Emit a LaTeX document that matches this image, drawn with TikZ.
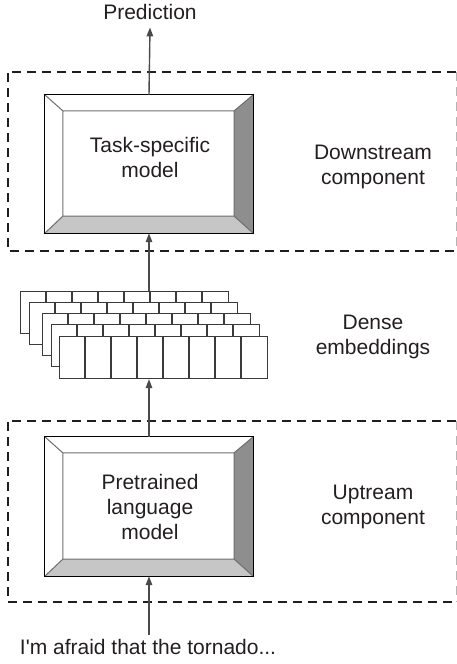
\documentclass[tikz,border=0pt]{standalone}
\usepackage{fontspec}
\setmainfont{Liberation Sans}
\usetikzlibrary{arrows.meta}

\definecolor{inkdark}{HTML}{231F20}
\definecolor{framegray}{HTML}{1E1E1E}
\definecolor{framelight}{HTML}{B4B4B4}
\definecolor{bevelright}{HTML}{8E8E8E}
\definecolor{bevelbottom}{HTML}{C6C6C6}
\definecolor{bevelline}{HTML}{6E6E6E}
\definecolor{arrowgray}{HTML}{4A4A4A}
\definecolor{cellline}{HTML}{3A3A3A}

% shaded bevel faces, inner panel and outline of a raised box node
\newcommand\raisedfaces[1]{%
  \coordinate (#1-inw) at ([shift={(18,16)}]#1.north west);
  \coordinate (#1-ine) at ([shift={(-19,16)}]#1.north east);
  \coordinate (#1-isw) at ([shift={(18,-17)}]#1.south west);
  \coordinate (#1-ise) at ([shift={(-19,-17)}]#1.south east);
  \fill[bevelright] (#1.north east) -- (#1.south east) -- (#1-ise) -- (#1-ine) -- cycle;
  \fill[bevelbottom] (#1.south west) -- (#1.south east) -- (#1-ise) -- (#1-isw) -- cycle;
  \draw[bevelline, line width=1pt, line join=miter]
    (#1-inw) rectangle (#1-ise)
    (#1.north west) -- (#1-inw) (#1.north east) -- (#1-ine)
    (#1.south west) -- (#1-isw) (#1.south east) -- (#1-ise);
  \draw[black, line width=1.3pt] (#1.north west) rectangle (#1.south east);
}

\tikzset{
  txt/.style={text=inkdark, align=center, inner sep=0pt,
    font=\fontsize{21}{25}\selectfont},
  raisedbox/.style={rectangle, inner sep=0pt, minimum width=208pt, minimum height=138pt},
  frame/.style={rectangle, inner sep=0pt, minimum width=448pt},
  framedash/.style={framegray, line width=2pt, dash pattern=on 9pt off 6pt},
  framedashlight/.style={framelight, line width=1pt, dash pattern=on 9pt off 6pt},
  emblayer/.style={rectangle, inner sep=0pt, minimum width=208pt, minimum height=42pt,
    fill=white, draw=cellline, line width=1.1pt, anchor=north west},
  flow/.style={arrowgray, line width=1.4pt, -{Triangle[length=9pt, width=6.5pt]}},
}

\begin{document}
\begin{tikzpicture}[x=1pt, y=-1pt]
\useasboundingbox (0,0) rectangle (457,664);

% dashed frames around the two components
\node[frame, minimum height=179pt] (downframe) at (232,161.5) {};
\node[frame, minimum height=181pt] (upframe) at (232,511.5) {};
\foreach \f in {downframe, upframe} {
  \draw[framedash] (\f.north east) -- (\f.north west) -- (\f.south west) -- (\f.south east);
  \draw[framedashlight] (\f.north east) -- (\f.south east);
}

% task-specific model
\node[raisedbox] (taskbox) at (149,164) {};
\raisedfaces{taskbox}
\node[txt] (tasktext) at (150,157) {Task-specific\\model};

% pretrained language model
\node[raisedbox, minimum height=139pt] (lmbox) at (149,506.5) {};
\raisedfaces{lmbox}
\node[txt] (lmtext) at (150,507) {Pretrained\\language\\model};

% stacked embedding layers, back to front
\foreach \lx/\ly/\i in {20/291/1, 29/302/2, 42/313/3, 51/324/4, 59/336/5} {
  \node[emblayer] (emb\i) at (\lx,\ly) {};
  \foreach \k in {1,...,7}
    \draw[cellline, line width=1.1pt]
      ([xshift=\k*26pt]emb\i.north west) -- ([xshift=\k*26pt]emb\i.south west);
}

% side labels
\node[txt] (downlabel) at (373,167) {Downstream\\component};
\node[txt] (emblabel) at (373,337) {Dense\\embeddings};
\node[txt] (uplabel) at (373,507) {Uptream\\component};

% input and output texts
\node[txt] (pred) at (150,11.5) {Prediction};
\node[txt] (input) at (148,646.5) {I\textquotesingle m afraid that the tornado...};

% data flow
\draw[flow] (taskbox.north) -- ([yshift=-8pt]pred.south);
\draw[flow] (taskbox.south |- emb1.north) -- (taskbox.south);
\draw[flow] (lmbox.north) -- (lmbox.north |- emb5.south);
\draw[flow] ([yshift=4pt]lmbox.south |- input.north) -- (lmbox.south);
\end{tikzpicture}
\end{document}
